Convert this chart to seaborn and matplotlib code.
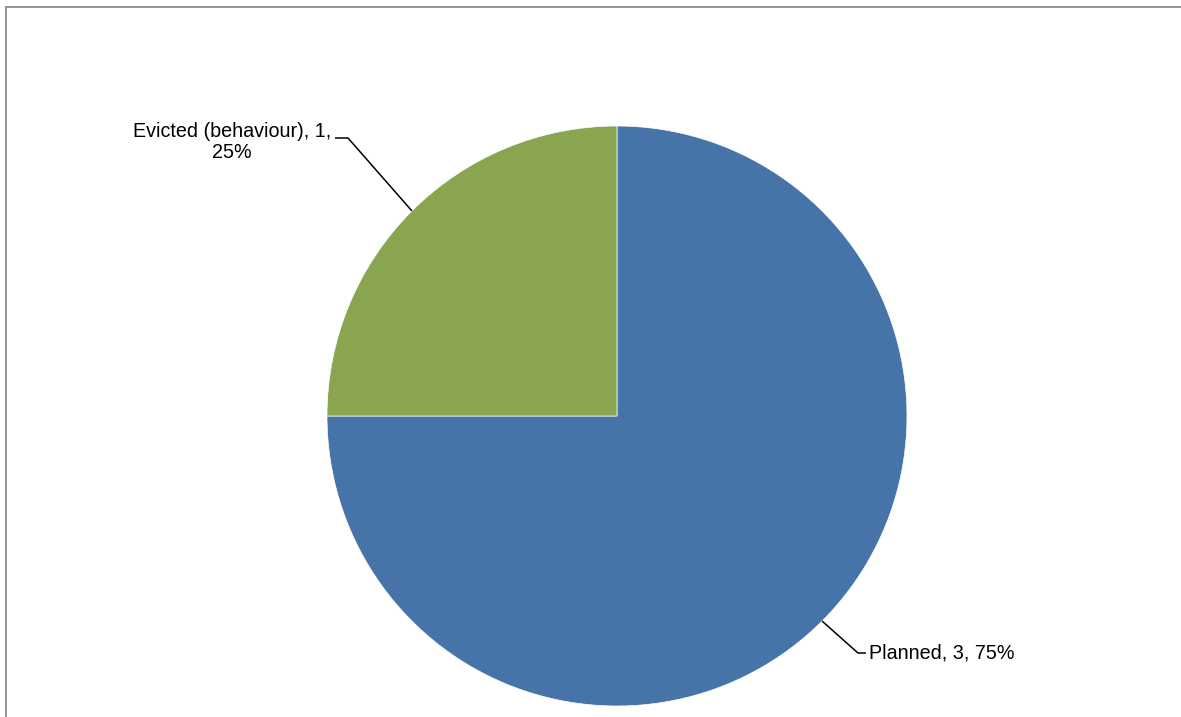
import numpy as np
import matplotlib
matplotlib.use("Agg")
import matplotlib.pyplot as plt
import seaborn as sns
from matplotlib.lines import Line2D

# data
categories = ["Planned", "Evicted (behaviour)"]
counts = [3, 1]
colors = ["#4674A8", "#8AA54F"]

sns.set_style("white")
plt.rcParams["font.family"] = ["Liberation Sans", "DejaVu Sans"]

W, H = 1181, 717
fig = plt.figure(figsize=(W / 100, H / 100), dpi=100)
ax = fig.add_axes([0, 0, 1, 1])

cx, cy, r = 617, 301, 290
wedges, _ = ax.pie(
    counts,
    colors=colors,
    startangle=90,
    counterclock=False,
    center=(cx, cy),
    radius=r,
    wedgeprops=dict(edgecolor="white", linewidth=0.5),
)
ax.set_xlim(0, W)
ax.set_ylim(0, H)
ax.set_aspect("equal")
ax.axis("off")

total = sum(counts)
# leader lines + labels
label_layout = {
    "Planned": dict(elbow=(858, 64), end=(866, 64), text=(869, 64), ha="left"),
    "Evicted (behaviour)": dict(elbow=(348, 579), end=(335, 579), text=(331, 575), ha="right"),
}
for w, cat, n in zip(wedges, categories, counts):
    mid = np.deg2rad((w.theta1 + w.theta2) / 2)
    px, py = cx + r * np.cos(mid), cy + r * np.sin(mid)
    lay = label_layout[cat]
    ax.plot([px, lay["elbow"][0], lay["end"][0]],
            [py, lay["elbow"][1], lay["end"][1]],
            color="black", lw=1.1, solid_capstyle="butt")
    pct = f"{100 * n / total:.0f}%"
    if cat == "Planned":
        txt = f"{cat}, {n}, {pct}"
    else:
        txt = f"{cat}, {n},\n{pct}"
    ax.text(lay["text"][0], lay["text"][1], txt, ha=lay["ha"], va="center",
            multialignment="center", fontsize=14.2, color="black",
            linespacing=1.15)

# chart area frame (cropped on right/bottom)
fig.add_artist(Line2D([6 / W, 1.0], [1 - 7 / H, 1 - 7 / H], transform=fig.transFigure,
                      color="#8c8c8c", lw=1.3))
fig.add_artist(Line2D([6 / W, 6 / W], [0, 1 - 7 / H], transform=fig.transFigure,
                      color="#8c8c8c", lw=1.3))

fig.savefig("out.png", dpi=100)
